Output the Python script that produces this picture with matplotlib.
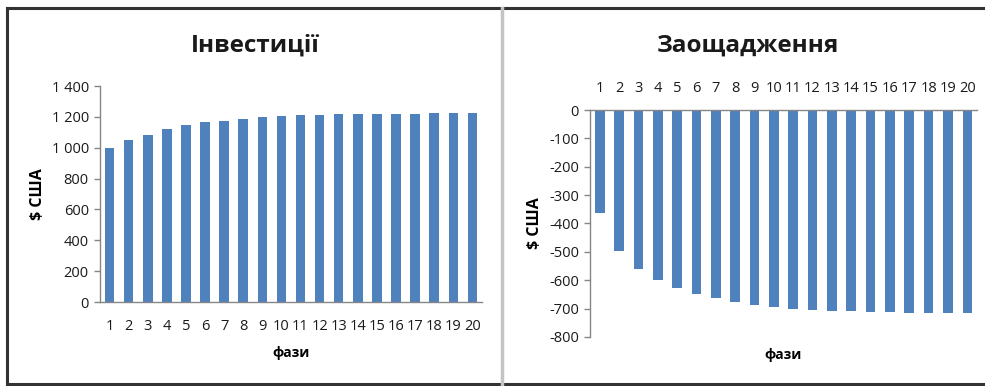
import matplotlib
matplotlib.use("Agg")
import matplotlib.pyplot as plt
from matplotlib.lines import Line2D
from matplotlib.ticker import FuncFormatter

plt.rcParams['font.family'] = ['Open Sans', 'DejaVu Sans']
plt.rcParams['axes.unicode_minus'] = False

# data
fazy = list(range(1, 21))
investytsii = [1000, 1050, 1085, 1119, 1147, 1167, 1176, 1189, 1197, 1204,
               1210, 1210, 1219, 1219, 1219, 1219, 1219, 1226, 1226, 1226]
zaoshchadzhennia = [-362, -496, -561, -598, -629, -648, -663, -678, -687, -694,
                    -702, -706, -709, -709, -713, -713, -716, -716, -716, -716]
inv_ticks = [0, 200, 400, 600, 800, 1000, 1200, 1400]
zao_ticks = [0, -100, -200, -300, -400, -500, -600, -700, -800]

bar_color = '#4F81BD'
axis_color = '#868686'
text_color = '#1a1a1a'

fig = plt.figure(figsize=(9.85, 3.86), dpi=100)

# panel frames
fig.add_artist(Line2D([0.007, 1.0], [0.978, 0.978], color='#333333', lw=2.2))
fig.add_artist(Line2D([0.007, 0.007], [0.005, 0.978], color='#333333', lw=2.2))
fig.add_artist(Line2D([0.007, 1.0], [0.005, 0.005], color='#333333', lw=2.2))
fig.add_artist(Line2D([0.5095, 0.5095], [0.005, 0.978], color='#c4c4c4', lw=2.5))


def space_thousands(v, pos):
    return f"{int(v):,}".replace(",", " ")


def style_axis(ax):
    for s in ax.spines.values():
        s.set_color(axis_color)
        s.set_linewidth(1.0)
    ax.tick_params(axis='y', colors=axis_color, labelcolor=text_color,
                   length=4, width=1, labelsize=10.5, pad=4)
    ax.tick_params(axis='x', length=0, labelcolor=text_color, labelsize=10.5)


# --- Інвестиції ---
ax1 = fig.add_axes([0.1015, 0.2176, 0.3878, 0.5596])
ax1.bar(fazy, investytsii, width=0.5, color=bar_color)
ax1.set_xlim(0.5, 20.5)
ax1.set_ylim(0, 1400)
ax1.set_yticks(inv_ticks)
ax1.yaxis.set_major_formatter(FuncFormatter(space_thousands))
ax1.set_xticks(fazy)
ax1.spines['top'].set_visible(False)
ax1.spines['right'].set_visible(False)
style_axis(ax1)
ax1.tick_params(axis='x', pad=12)
ax1.set_ylabel('$ США', fontsize=11.5, fontweight='bold', labelpad=4)
ax1.set_xlabel('фази', fontsize=10, fontweight='bold', labelpad=9)
fig.text(0.259, 0.882, 'Інвестиції', ha='center', va='center',
         fontsize=17.5, fontweight='bold', color=text_color)

# --- Заощадження ---
ax2 = fig.add_axes([0.599, 0.127, 0.3929, 0.588])
ax2.bar(fazy, zaoshchadzhennia, width=0.5, color=bar_color)
ax2.set_xlim(0.5, 20.5)
ax2.set_ylim(-800, 0)
ax2.set_yticks(zao_ticks)
ax2.set_xticks(fazy)
ax2.xaxis.tick_top()
ax2.spines['bottom'].set_visible(False)
ax2.spines['right'].set_visible(False)
style_axis(ax2)
ax2.tick_params(axis='x', pad=10)
ax2.set_ylabel('$ США', fontsize=11.5, fontweight='bold', labelpad=4)
ax2.set_xlabel('фази', fontsize=10, fontweight='bold', labelpad=8)
fig.text(0.759, 0.882, 'Заощадження', ha='center', va='center',
         fontsize=17.5, fontweight='bold', color=text_color)

fig.savefig('out.png', dpi=100, facecolor='white')
